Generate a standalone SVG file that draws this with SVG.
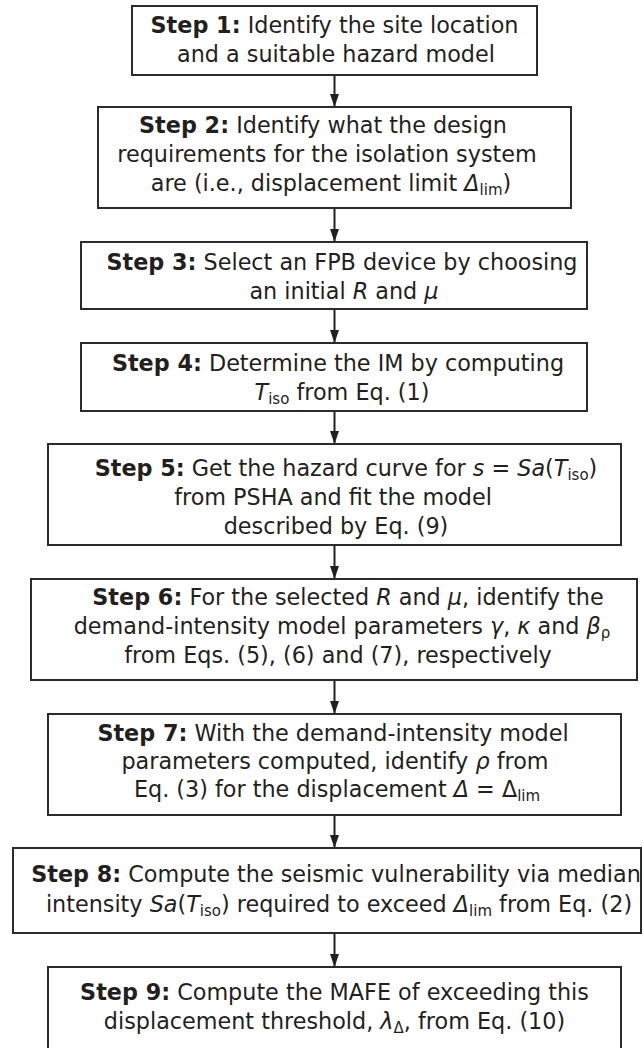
<svg xmlns="http://www.w3.org/2000/svg" width="643" height="1048" viewBox="0 0 643 1048">
<style>
.box{fill:#ffffff;stroke:#2b2b2b;stroke-width:2}
.t{font-family:"DejaVu Sans","Verdana",sans-serif;font-size:22.3px;fill:#231f20;text-anchor:middle}
.b{font-weight:bold}
.i{font-style:italic}
.s{font-size:15px}
.con{stroke:#231f20;stroke-width:2;fill:none;marker-end:url(#arr)}
</style>
<defs>
<marker id="arr" markerUnits="userSpaceOnUse" markerWidth="13" markerHeight="10" refX="13" refY="5" orient="auto" viewBox="0 0 13 10">
<path d="M0,0.5 L13,5 L0,9.5 Z" fill="#231f20"/>
</marker>
</defs>
<rect width="643" height="1048" fill="#ffffff"/>
<g id="connectors">
<line class="con" x1="334.5" y1="75" x2="334.5" y2="107"/>
<line class="con" x1="334.5" y1="208" x2="334.5" y2="242"/>
<line class="con" x1="334.5" y1="309" x2="334.5" y2="343"/>
<line class="con" x1="334.5" y1="411" x2="334.5" y2="444"/>
<line class="con" x1="334.5" y1="545" x2="334.5" y2="579"/>
<line class="con" x1="334.5" y1="680" x2="334.5" y2="714"/>
<line class="con" x1="334.5" y1="815" x2="334.5" y2="848"/>
<line class="con" x1="334.5" y1="933" x2="334.5" y2="967"/>
</g>
<g id="step1">
<rect class="box" x="132" y="6" width="405" height="69"/>
<text class="t" x="334.5" y="33"><tspan class="b">Step 1:</tspan> Identify the site location</text>
<text class="t" x="336" y="62">and a suitable hazard model</text>
</g>
<g id="step2">
<rect class="box" x="98" y="107" width="473" height="101"/>
<text class="t" x="323" y="133"><tspan class="b">Step 2:</tspan> Identify what the design</text>
<text class="t" x="327" y="162">requirements for the isolation system</text>
<text class="t" x="331" y="191">are (i.e., displacement limit <tspan class="i">Δ</tspan><tspan class="s" dy="4">lim</tspan><tspan dy="-4">)</tspan></text>
</g>
<g id="step3">
<rect class="box" x="81" y="242" width="506" height="67"/>
<text class="t" x="342" y="270"><tspan class="b">Step 3:</tspan> Select an FPB device by choosing</text>
<text class="t" x="344" y="299">an initial <tspan class="i">R</tspan> and <tspan class="i">μ</tspan></text>
</g>
<g id="step4">
<rect class="box" x="81" y="343" width="506" height="68"/>
<text class="t" x="338" y="371"><tspan class="b">Step 4:</tspan> Determine the IM by computing</text>
<text class="t" x="342" y="400"><tspan class="i">T</tspan><tspan class="s" dy="4">iso</tspan><tspan dy="-4"> from Eq. (1)</tspan></text>
</g>
<g id="step5">
<rect class="box" x="48" y="444" width="573" height="101"/>
<text class="t" x="346" y="476"><tspan class="b">Step 5:</tspan> Get the hazard curve for <tspan class="i">s</tspan> = <tspan class="i">Sa</tspan>(<tspan class="i">T</tspan><tspan class="s" dy="4">iso</tspan><tspan dy="-4">)</tspan></text>
<text class="t" x="333" y="505">from PSHA and fit the model</text>
<text class="t" x="336" y="534">described by Eq. (9)</text>
</g>
<g id="step6">
<rect class="box" x="31" y="579" width="606" height="101"/>
<text class="t" x="348" y="605"><tspan class="b">Step 6:</tspan> For the selected <tspan class="i">R</tspan> and <tspan class="i">μ</tspan>, identify the</text>
<text class="t" x="342" y="634">demand-intensity model parameters <tspan class="i">γ</tspan>, <tspan class="i">κ</tspan> and <tspan class="i">β</tspan><tspan class="s" dy="4">ρ</tspan></text>
<text class="t" x="338" y="663">from Eqs. (5), (6) and (7), respectively</text>
</g>
<g id="step7">
<rect class="box" x="48" y="714" width="573" height="101"/>
<text class="t" x="333" y="741"><tspan class="b">Step 7:</tspan> With the demand-intensity model</text>
<text class="t" x="335" y="769">parameters computed, identify <tspan class="i">ρ</tspan> from</text>
<text class="t" x="337" y="797">Eq. (3) for the displacement <tspan class="i">Δ</tspan> = Δ<tspan class="s" dy="4">lim</tspan></text>
</g>
<g id="step8">
<rect class="box" x="13" y="848" width="628" height="85"/>
<text class="t" x="336" y="882"><tspan class="b">Step 8:</tspan> Compute the seismic vulnerability via median</text>
<text class="t" x="339" y="912">intensity <tspan class="i">Sa</tspan>(<tspan class="i">T</tspan><tspan class="s" dy="4">iso</tspan><tspan dy="-4">) required to exceed </tspan><tspan class="i">Δ</tspan><tspan class="s" dy="4">lim</tspan><tspan dy="-4"> from Eq. (2)</tspan></text>
</g>
<g id="step9">
<rect class="box" x="48" y="967" width="573" height="100"/>
<text class="t" x="334.5" y="1000"><tspan class="b">Step 9:</tspan> Compute the MAFE of exceeding this</text>
<text class="t" x="334.5" y="1029">displacement threshold, <tspan class="i">λ</tspan><tspan class="s" dy="4">Δ</tspan><tspan dy="-4">, from Eq. (10)</tspan></text>
</g>
</svg>
